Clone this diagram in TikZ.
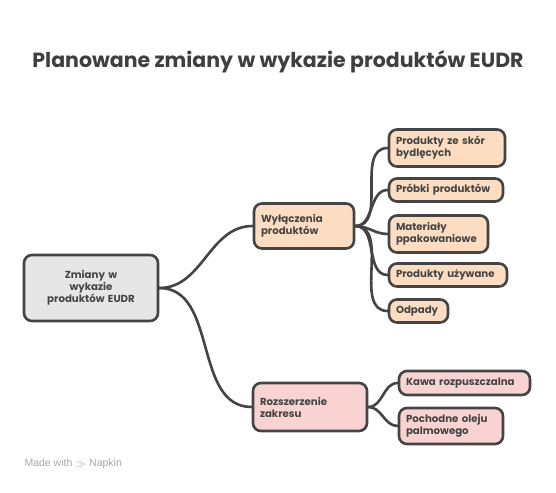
\documentclass[tikz,border=0pt]{standalone}
\usepackage{fontspec}
\setmainfont{Poppins}
\newfontfamily\madefont{Liberation Sans}
\definecolor{lineC}{HTML}{444444}
\definecolor{rootF}{HTML}{E6E6E6}
\definecolor{peachF}{HTML}{FCDDC2}
\definecolor{pinkF}{HTML}{F9D3D1}
\definecolor{titleC}{HTML}{3F3F3F}
\definecolor{madeC}{HTML}{A8A8A8}
\begin{document}
\begin{tikzpicture}[x=1pt,y=-1pt,
  box/.style={draw=lineC, line width=2.6pt, rounded corners=8pt, inner xsep=7pt, inner ysep=2pt,
    align=left, font=\fontsize{10.2}{12}\selectfont\bfseries, text=lineC},
  conn/.style={draw=lineC, line width=2.6pt, line cap=round}]
\useasboundingbox (0,0) rectangle (556,492);
\fill[white] (0,0) rectangle (556,492);
\node[font=\fontsize{20.5}{24}\selectfont\bfseries, text=titleC] (title) at (278,62) {Planowane zmiany w wykazie produktów EUDR};

\node[box, fill=rootF, align=center, text width=120pt, minimum height=66pt] (root) at (91,288) {Zmiany w\\wykazie\\produktów EUDR};

\node[box, fill=peachF, text width=86pt, minimum height=45pt] (wyl) at (304,226) {Wyłączenia\\produktów};
\node[box, fill=pinkF, text width=100pt, minimum height=48pt] (roz) at (310,407) {Rozszerzenie\\zakresu};

\node[box, fill=peachF, text width=102pt, minimum height=37pt] (l1) at (447,148) {Produkty ze skór\\bydlęcych};
\node[box, fill=peachF, text width=100pt, minimum height=23pt] (l2) at (446,190) {Próbki produktów};
\node[box, fill=peachF, text width=85pt, minimum height=37pt] (l3) at (438.5,234) {Materiały\\ppakowaniowe};
\node[box, fill=peachF, text width=104pt, minimum height=23pt] (l4) at (448,275) {Produkty używane};
\node[box, fill=peachF, text width=45pt, minimum height=23pt] (l5) at (418.5,311) {Odpady};

\node[box, fill=pinkF, text width=117pt, minimum height=24pt] (k1) at (464.5,383) {Kawa rozpuszczalna};
\node[box, fill=pinkF, text width=90pt, minimum height=36pt] (k2) at (451,426) {Pochodne oleju\\palmowego};

\draw[conn] (root.east) to[out=0,in=180] (wyl.west);
\draw[conn] (root.east) to[out=0,in=180] (roz.west);
\foreach \n in {l1,l2,l3,l4,l5} \draw[conn] (wyl.east) to[out=0,in=180] (\n.west);
\foreach \n in {k1,k2} \draw[conn] (roz.east) to[out=0,in=180] (\n.west);

\node[font=\madefont\fontsize{10.5}{12}\selectfont, text=madeC, anchor=west] (made) at (21,464) {Made with \raisebox{-0.5pt}{$\gg$} Napkin};
\end{tikzpicture}
\end{document}
